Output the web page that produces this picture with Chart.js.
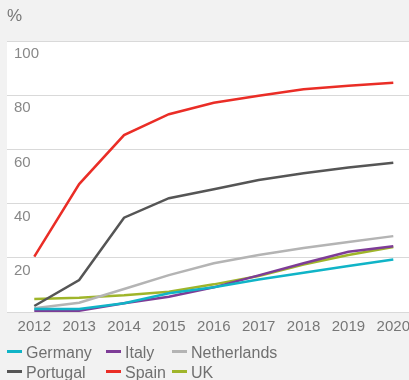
<!DOCTYPE html>
<html>
<head>
<meta charset="utf-8">
<script src="https://cdn.jsdelivr.net/npm/chart.js@4.4.1/dist/chart.umd.min.js"></script>
<style>
    html, body { margin: 0; padding: 0; background: #f2f2f2; }
    #wrap { position: relative; width: 409px; height: 380px; overflow: hidden; }
    #box { position: absolute; left: 0; top: 0; width: 409px; height: 345px; }
    #legend { position: absolute; left: 7px; top: 343px; width: 400px; font: 16px "Liberation Sans", Arial, sans-serif; color: #707070; line-height: 20px; }
    #legend .row { white-space: nowrap; }
    #legend .item { display: inline-block; }
    #legend .mark { display: inline-block; width: 15px; height: 3px; margin-right: 4px; vertical-align: 5px; }
</style>
</head>
<body>
<div id="wrap">
    <div id="box"><canvas id="chart"></canvas></div>
    <div id="legend"></div>
</div>
<script>
    // values, in %
    var years = [2012, 2013, 2014, 2015, 2016, 2017, 2018, 2019, 2020];
    var germany = [1.1, 1.1, 3.2, 6.9, 9.1, 12, 14.5, 17, 19.4];
    var italy = [0.5, 0.5, 3.2, 5.6, 9.1, 13.5, 18, 22.2, 24.3];
    var netherlands = [1.4, 3.4, 8.5, 13.6, 18, 21, 23.6, 25.8, 28];
    var portugal = [2.2, 11.8, 34.8, 42, 45.3, 48.7, 51.2, 53.3, 55.1];
    var spain = [20.4, 47.2, 65.3, 73, 77.2, 79.8, 82.2, 83.5, 84.6];
    var uk = [4.8, 5.3, 6.2, 7.5, 10.2, 13.3, 17.5, 21, 24];
    var yTicks = [0, 20, 40, 60, 80, 100];

    var names = ["Germany", "Italy", "Netherlands", "Portugal", "Spain", "UK"];
    var values = [germany, italy, netherlands, portugal, spain, uk];
    var colors = ["#10b4c7", "#7e3c97", "#b4b4b4", "#555555", "#ea2d26", "#9fb52a"];

    var tickFont = { family: "'Liberation Sans', Arial, sans-serif", size: 15 };

    var datasets = [];
    names.forEach((n, i) => {
        datasets.push({
            label: n,
            data: years.map((y, k) => ({ x: y, y: values[i][k] })),
            borderColor: colors[i],
            backgroundColor: colors[i],
            borderWidth: 2.5,
            pointRadius: 0,
            tension: 0
        });
    });

    // white plot area
    var plotBg = {
        id: "plotBg",
        beforeDraw: function(chart) {
            var a = chart.chartArea;
            chart.ctx.save();
            chart.ctx.fillStyle = "#ffffff";
            chart.ctx.fillRect(a.left, a.top, a.right - a.left, a.bottom - a.top);
            chart.ctx.restore();
        }
    };

    new Chart(document.getElementById("chart"), {
        type: "line",
        data: { datasets: datasets },
        plugins: [plotBg],
        options: {
            responsive: true,
            maintainAspectRatio: false,
            animation: false,
            layout: { padding: { left: 7, right: 0, top: 0, bottom: 3 } },
            plugins: {
                legend: { display: false },
                tooltip: { enabled: false },
                title: {
                    display: true,
                    text: "%",
                    align: "start",
                    color: "#777777",
                    font: { family: "'Liberation Sans', Arial, sans-serif", size: 17, weight: "normal" },
                    padding: { top: 6, bottom: 14.6 }
                }
            },
            scales: {
                x: {
                    type: "linear",
                    min: 2011.392,
                    max: 2020.35,
                    afterBuildTicks: function(s) {
                        s.ticks = years.map((y) => ({ value: y }));
                    },
                    afterFit: function(s) {
                        s.paddingLeft = 0;
                        s.paddingRight = 0;
                    },
                    grid: { display: false, drawTicks: false },
                    border: { display: false },
                    ticks: {
                        color: "#777777",
                        padding: 6,
                        maxRotation: 0,
                        autoSkip: false,
                        font: tickFont,
                        callback: function(v) { return String(v); }
                    }
                },
                y: {
                    min: 0,
                    max: 100,
                    afterBuildTicks: function(s) {
                        s.ticks = yTicks.map((v) => ({ value: v }));
                    },
                    afterFit: function(s) { s.width = 0; },
                    grid: { color: "#d9d9d9", lineWidth: 1, drawTicks: false },
                    border: { display: false },
                    ticks: {
                        mirror: true,
                        padding: 7,
                        labelOffset: 13,
                        color: "#888888",
                        font: tickFont,
                        callback: function(v) { return v === 0 ? "" : v; }
                    }
                }
            }
        }
    });

    // legend in two rows with loose columns like the original
    var rows = [[0, 1, 2], [3, 4, 5]];
    var colW = [99, 66, 0];
    var html = "";
    rows.forEach((r) => {
        html += '<div class="row">';
        r.forEach((i, c) => {
            var w = colW[c] ? ' style="width:' + colW[c] + 'px"' : "";
            html += '<span class="item"' + w + '><span class="mark" style="background:' + colors[i] + '"></span>' + names[i] + '</span>';
        });
        html += "</div>";
    });
    document.getElementById("legend").innerHTML = html;
</script>
</body>
</html>
